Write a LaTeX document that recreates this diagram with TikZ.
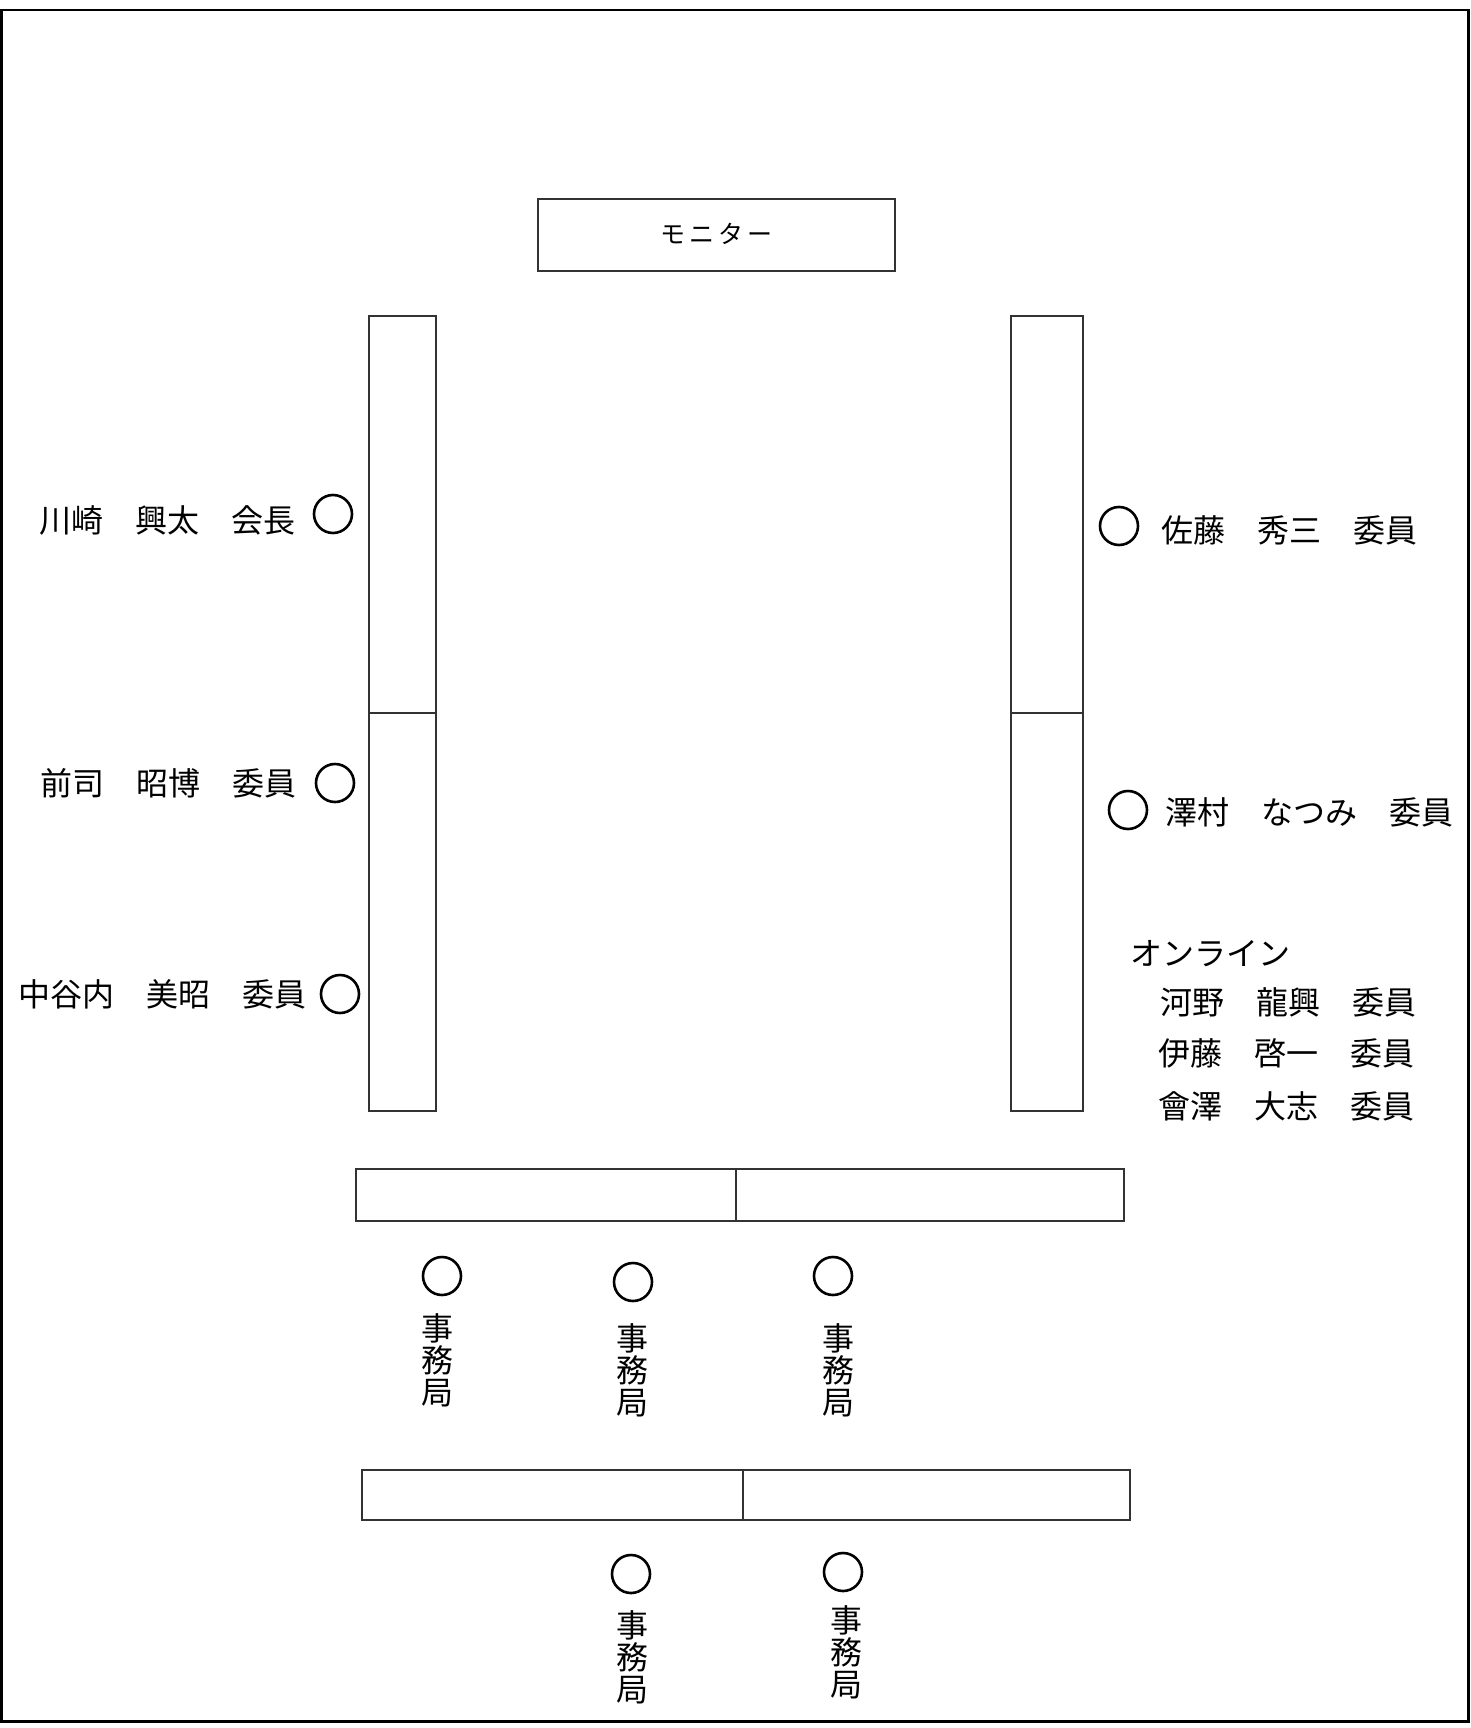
\documentclass[tikz,border=0pt]{standalone}
\usepackage{fontspec}
\setmainfont{Noto Sans CJK JP}
\newfontfamily\jpfont{Noto Sans CJK JP}
\begin{document}
\begin{tikzpicture}[x=1pt,y=-1pt,
  tbl/.style={draw=black!80,line width=1.4pt},
  seat/.style={draw=black,line width=2.6pt,circle,minimum size=38pt,inner sep=0pt},
  lbl/.style={inner sep=0pt,font=\jpfont\fontsize{32}{32}\selectfont},
  vlbl/.style={inner sep=0pt,align=center,font=\jpfont\fontsize{32}{32}\selectfont},
  mon/.style={inner sep=0pt,font=\jpfont\fontsize{25}{25}\selectfont}]
\useasboundingbox (0,0) rectangle (1470,1728);
\draw[line width=2.6pt] (1.5,10) rectangle (1468.5,1721.5);
% monitor
\draw[tbl] (538,199) rectangle (895,271);
\node[mon] (monitor) at (716,234) {モ\hspace{4pt}ニ\hspace{4pt}タ\hspace{4pt}ー};
% left tables
\draw[tbl] (369,316) rectangle (436,1111);
\draw[tbl] (369,713) -- (436,713);
% right tables
\draw[tbl] (1011,316) rectangle (1083,1111);
\draw[tbl] (1011,713) -- (1083,713);
% bottom tables
\draw[tbl] (356,1169) rectangle (1124,1221);
\draw[tbl] (736,1169) -- (736,1221);
\draw[tbl] (362,1470) rectangle (1130,1520);
\draw[tbl] (743,1470) -- (743,1520);
% left seats
\node[seat] (s1) at (333,514) {};
\node[lbl,anchor=east] (n1) at (296,520) {川崎　興太　会長};
\node[seat] (s2) at (335,783) {};
\node[lbl,anchor=east] (n2) at (297,783) {前司　昭博　委員};
\node[seat] (s3) at (340,994) {};
\node[lbl,anchor=east] (n3) at (307,994) {中谷内　美昭　委員};
% right seats
\node[seat] (s4) at (1119,526) {};
\node[lbl,anchor=west] (n4) at (1161,530) {佐藤　秀三　委員};
\node[seat] (s5) at (1128,810) {};
\node[lbl,anchor=west] (n5) at (1165,812) {澤村　なつみ　委員};
\node[lbl,anchor=west] (on) at (1130,954) {オンライン};
\node[lbl,anchor=west] (o1) at (1160,1002) {河野　龍興　委員};
\node[lbl,anchor=west] (o2) at (1158,1053) {伊藤　啓一　委員};
\node[lbl,anchor=west] (o3) at (1158,1106) {會澤　大志　委員};
% secretariat row 1
\node[seat] (j1) at (442,1276) {};
\node[vlbl] (t1) at (437,1360) {事\\務\\局};
\node[seat] (j2) at (633,1282) {};
\node[vlbl] (t2) at (632,1370) {事\\務\\局};
\node[seat] (j3) at (833,1276) {};
\node[vlbl] (t3) at (838,1370) {事\\務\\局};
% secretariat row 2
\node[seat] (j4) at (631,1574) {};
\node[vlbl] (t4) at (632,1657) {事\\務\\局};
\node[seat] (j5) at (843,1572) {};
\node[vlbl] (t5) at (846,1652) {事\\務\\局};
\end{tikzpicture}
\end{document}
